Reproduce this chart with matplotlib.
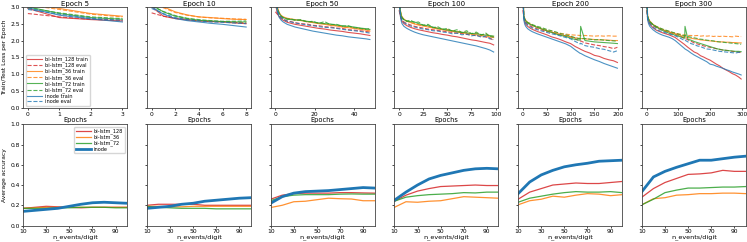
import matplotlib
matplotlib.use("Agg")
import matplotlib.pyplot as plt

# ---- loss curves (top row) ----
titles = ["Epoch 5", "Epoch 10", "Epoch 50", "Epoch 100", "Epoch 200", "Epoch 300"]
names = ["bi-lstm_128", "bi-lstm_36", "bi-lstm_72", "inode"]

ep5_x = [0, 1, 2, 3]
ep5 = {
    "bi-lstm_128 train": [2.95, 2.68, 2.62, 2.58],
    "bi-lstm_128 eval": [2.80, 2.70, 2.63, 2.60],
    "bi-lstm_36 train": [3.10, 2.95, 2.80, 2.72],
    "bi-lstm_36 eval": [3.05, 2.92, 2.78, 2.70],
    "bi-lstm_72 train": [3.00, 2.80, 2.68, 2.63],
    "bi-lstm_72 eval": [2.97, 2.82, 2.70, 2.65],
    "inode train": [2.97, 2.75, 2.64, 2.55],
    "inode eval": [2.92, 2.78, 2.66, 2.60],
}

ep10_x = [0, 1, 2, 3, 4, 5, 6, 7, 8]
ep10 = {
    "bi-lstm_128 train": [3.00, 2.72, 2.65, 2.61, 2.58, 2.56, 2.55, 2.52, 2.50],
    "bi-lstm_128 eval": [2.82, 2.72, 2.66, 2.62, 2.59, 2.57, 2.56, 2.54, 2.52],
    "bi-lstm_36 train": [3.15, 3.00, 2.85, 2.76, 2.70, 2.68, 2.65, 2.63, 2.62],
    "bi-lstm_36 eval": [3.10, 2.97, 2.83, 2.75, 2.70, 2.67, 2.66, 2.64, 2.63],
    "bi-lstm_72 train": [3.05, 2.85, 2.72, 2.65, 2.60, 2.58, 2.56, 2.55, 2.55],
    "bi-lstm_72 eval": [3.02, 2.86, 2.74, 2.66, 2.62, 2.59, 2.57, 2.57, 2.58],
    "inode train": [3.00, 2.78, 2.65, 2.59, 2.55, 2.51, 2.48, 2.44, 2.40],
    "inode eval": [2.95, 2.80, 2.68, 2.62, 2.58, 2.55, 2.54, 2.52, 2.50],
}

ep50_x = [0, 1, 2, 3, 4, 6, 8, 10, 13, 16, 19, 22, 25, 28, 31, 34, 37, 40, 43, 46, 48]
ep50 = {
    "bi-lstm_128 train": [3.10, 2.80, 2.70, 2.64, 2.60, 2.54, 2.51, 2.48, 2.45, 2.42, 2.39, 2.36, 2.34, 2.31, 2.29, 2.27, 2.24, 2.22, 2.20, 2.17, 2.15],
    "bi-lstm_128 eval": [2.85, 2.78, 2.72, 2.67, 2.63, 2.58, 2.56, 2.53, 2.50, 2.49, 2.45, 2.44, 2.41, 2.40, 2.37, 2.36, 2.32, 2.31, 2.29, 2.27, 2.25],
    "bi-lstm_36 train": [3.50, 3.00, 2.82, 2.74, 2.70, 2.66, 2.64, 2.62, 2.59, 2.56, 2.53, 2.50, 2.48, 2.45, 2.43, 2.40, 2.38, 2.36, 2.33, 2.31, 2.28],
    "bi-lstm_36 eval": [3.40, 2.95, 2.80, 2.73, 2.69, 2.65, 2.63, 2.61, 2.60, 2.56, 2.55, 2.51, 2.50, 2.46, 2.45, 2.41, 2.40, 2.37, 2.36, 2.33, 2.31],
    "bi-lstm_72 train": [3.50, 2.95, 2.80, 2.72, 2.68, 2.64, 2.62, 2.61, 2.60, 2.57, 2.55, 2.52, 2.50, 2.49, 2.46, 2.44, 2.42, 2.40, 2.37, 2.35, 2.33],
    "bi-lstm_72 eval": [3.40, 2.92, 2.78, 2.71, 2.67, 2.63, 2.64, 2.60, 2.62, 2.55, 2.57, 2.51, 2.56, 2.47, 2.48, 2.42, 2.44, 2.38, 2.36, 2.33, 2.36],
    "inode train": [3.40, 2.85, 2.68, 2.60, 2.55, 2.48, 2.44, 2.40, 2.36, 2.32, 2.28, 2.25, 2.22, 2.19, 2.16, 2.14, 2.11, 2.09, 2.07, 2.05, 2.03],
    "inode eval": [3.30, 2.90, 2.75, 2.68, 2.63, 2.57, 2.55, 2.52, 2.49, 2.46, 2.44, 2.41, 2.39, 2.38, 2.36, 2.33, 2.31, 2.29, 2.27, 2.24, 2.22],
}

ep100_x = [0, 1, 2, 3, 5, 8, 12, 16, 20, 25, 30, 35, 40, 45, 50, 55, 60, 65, 70, 75, 80, 85, 90, 94, 98]
ep100 = {
    "bi-lstm_128 train": [3.20, 2.78, 2.65, 2.57, 2.50, 2.44, 2.39, 2.35, 2.32, 2.29, 2.26, 2.23, 2.21, 2.18, 2.16, 2.13, 2.11, 2.08, 2.05, 2.02, 2.00, 1.97, 1.94, 1.92, 1.87],
    "bi-lstm_128 eval": [2.90, 2.75, 2.66, 2.60, 2.55, 2.50, 2.46, 2.42, 2.40, 2.37, 2.34, 2.32, 2.30, 2.28, 2.26, 2.24, 2.22, 2.21, 2.18, 2.17, 2.14, 2.13, 2.10, 2.08, 2.00],
    "bi-lstm_36 train": [3.50, 2.95, 2.78, 2.70, 2.63, 2.58, 2.53, 2.49, 2.46, 2.43, 2.40, 2.37, 2.34, 2.32, 2.29, 2.27, 2.25, 2.23, 2.21, 2.19, 2.17, 2.15, 2.13, 2.11, 2.09],
    "bi-lstm_36 eval": [3.40, 2.92, 2.76, 2.69, 2.63, 2.57, 2.54, 2.50, 2.47, 2.45, 2.42, 2.38, 2.37, 2.33, 2.33, 2.29, 2.28, 2.24, 2.25, 2.20, 2.22, 2.16, 2.19, 2.13, 2.12],
    "bi-lstm_72 train": [3.50, 2.93, 2.76, 2.68, 2.62, 2.57, 2.56, 2.55, 2.50, 2.46, 2.44, 2.40, 2.36, 2.34, 2.31, 2.29, 2.26, 2.24, 2.23, 2.21, 2.20, 2.18, 2.16, 2.15, 2.13],
    "bi-lstm_72 eval": [3.40, 2.90, 2.75, 2.67, 2.61, 2.58, 2.60, 2.53, 2.55, 2.45, 2.48, 2.38, 2.41, 2.33, 2.36, 2.28, 2.32, 2.24, 2.29, 2.20, 2.25, 2.16, 2.22, 2.12, 2.10],
    "inode train": [3.40, 2.80, 2.60, 2.50, 2.42, 2.36, 2.30, 2.25, 2.21, 2.17, 2.14, 2.11, 2.08, 2.05, 2.02, 1.99, 1.96, 1.93, 1.90, 1.87, 1.84, 1.80, 1.76, 1.72, 1.66],
    "inode eval": [3.30, 2.85, 2.68, 2.60, 2.53, 2.48, 2.43, 2.40, 2.37, 2.34, 2.32, 2.29, 2.28, 2.25, 2.24, 2.20, 2.22, 2.17, 2.19, 2.14, 2.16, 2.10, 2.13, 2.05, 2.03],
}

ep200_x = [0, 2, 4, 6, 10, 15, 20, 30, 40, 50, 60, 70, 80, 90, 100, 110, 120, 121, 130, 140, 150, 160, 170, 180, 190, 198]
ep200 = {
    "bi-lstm_128 train": [3.20, 2.66, 2.55, 2.48, 2.42, 2.37, 2.33, 2.27, 2.22, 2.17, 2.11, 2.07, 2.02, 1.96, 1.91, 1.82, 1.75, 1.74, 1.68, 1.63, 1.56, 1.53, 1.47, 1.43, 1.40, 1.35],
    "bi-lstm_128 eval": [2.90, 2.68, 2.60, 2.54, 2.48, 2.44, 2.40, 2.35, 2.31, 2.27, 2.24, 2.21, 2.17, 2.14, 2.11, 2.05, 1.98, 1.99, 1.93, 1.90, 1.87, 1.85, 1.82, 1.80, 1.76, 1.80],
    "bi-lstm_36 train": [3.50, 2.75, 2.65, 2.60, 2.54, 2.49, 2.45, 2.39, 2.34, 2.29, 2.25, 2.21, 2.17, 2.14, 2.11, 2.08, 2.06, 2.06, 2.05, 2.04, 2.03, 2.02, 2.02, 2.01, 2.00, 2.00],
    "bi-lstm_36 eval": [3.40, 2.73, 2.64, 2.59, 2.53, 2.49, 2.46, 2.40, 2.36, 2.31, 2.28, 2.24, 2.21, 2.19, 2.17, 2.16, 2.15, 2.14, 2.15, 2.14, 2.13, 2.14, 2.13, 2.14, 2.13, 2.13],
    "bi-lstm_72 train": [3.50, 2.72, 2.63, 2.58, 2.52, 2.48, 2.45, 2.39, 2.34, 2.29, 2.24, 2.19, 2.15, 2.12, 2.07, 2.03, 2.01, 2.42, 2.00, 1.98, 1.96, 1.95, 1.94, 1.93, 1.92, 1.91],
    "bi-lstm_72 eval": [3.40, 2.70, 2.62, 2.57, 2.53, 2.51, 2.47, 2.42, 2.38, 2.33, 2.29, 2.25, 2.20, 2.17, 2.13, 2.08, 2.05, 2.06, 2.06, 2.04, 2.02, 2.03, 2.01, 2.00, 1.99, 1.98],
    "inode train": [3.40, 2.60, 2.48, 2.42, 2.35, 2.30, 2.26, 2.20, 2.15, 2.10, 2.05, 2.00, 1.95, 1.90, 1.83, 1.72, 1.62, 1.62, 1.55, 1.49, 1.43, 1.38, 1.32, 1.27, 1.22, 1.18],
    "inode eval": [3.30, 2.70, 2.58, 2.52, 2.46, 2.41, 2.37, 2.32, 2.28, 2.24, 2.20, 2.17, 2.13, 2.09, 2.05, 1.97, 1.90, 1.92, 1.85, 1.82, 1.80, 1.76, 1.74, 1.70, 1.66, 1.70],
}

ep300_x = [0, 3, 6, 10, 20, 30, 40, 50, 60, 70, 80, 90, 100, 110, 120, 121, 130, 140, 150, 160, 170, 180, 190, 200, 210, 220, 230, 240, 250, 260, 270, 280, 290, 298]
ep300 = {
    "bi-lstm_128 train": [3.20, 2.68, 2.56, 2.48, 2.38, 2.31, 2.27, 2.23, 2.20, 2.17, 2.13, 2.09, 2.02, 1.95, 1.88, 1.87, 1.80, 1.73, 1.66, 1.62, 1.55, 1.51, 1.46, 1.42, 1.36, 1.30, 1.25, 1.18, 1.13, 1.08, 1.02, 0.98, 0.92, 0.86],
    "bi-lstm_128 eval": [2.90, 2.68, 2.60, 2.53, 2.44, 2.38, 2.34, 2.31, 2.28, 2.25, 2.22, 2.19, 2.16, 2.11, 2.06, 2.07, 2.02, 1.98, 1.93, 1.90, 1.87, 1.84, 1.82, 1.80, 1.78, 1.76, 1.74, 1.72, 1.71, 1.70, 1.68, 1.67, 1.66, 1.64],
    "bi-lstm_36 train": [3.50, 2.75, 2.65, 2.58, 2.48, 2.42, 2.37, 2.33, 2.29, 2.26, 2.23, 2.20, 2.17, 2.14, 2.11, 2.11, 2.09, 2.07, 2.05, 2.04, 2.02, 2.01, 2.00, 1.99, 1.98, 1.97, 1.96, 1.96, 1.95, 1.95, 1.94, 1.94, 1.93, 1.93],
    "bi-lstm_36 eval": [3.40, 2.74, 2.64, 2.57, 2.47, 2.41, 2.37, 2.33, 2.30, 2.27, 2.24, 2.22, 2.20, 2.18, 2.16, 2.17, 2.15, 2.15, 2.14, 2.15, 2.13, 2.14, 2.13, 2.14, 2.12, 2.13, 2.12, 2.13, 2.12, 2.12, 2.11, 2.13, 2.12, 2.12],
    "bi-lstm_72 train": [3.50, 2.73, 2.63, 2.56, 2.47, 2.40, 2.35, 2.30, 2.26, 2.22, 2.19, 2.16, 2.13, 2.10, 2.07, 2.42, 2.04, 2.01, 1.97, 1.94, 1.91, 1.88, 1.85, 1.82, 1.79, 1.76, 1.74, 1.72, 1.71, 1.70, 1.69, 1.68, 1.68, 1.67],
    "bi-lstm_72 eval": [3.40, 2.71, 2.62, 2.55, 2.47, 2.42, 2.38, 2.34, 2.31, 2.28, 2.25, 2.22, 2.19, 2.16, 2.14, 2.15, 2.12, 2.10, 2.08, 2.06, 2.04, 2.03, 2.01, 2.00, 1.99, 1.97, 1.96, 1.95, 1.94, 1.93, 1.92, 1.91, 1.90, 1.89],
    "inode train": [3.40, 2.62, 2.50, 2.42, 2.32, 2.25, 2.20, 2.16, 2.13, 2.10, 2.06, 2.00, 1.92, 1.84, 1.76, 1.75, 1.70, 1.63, 1.57, 1.52, 1.47, 1.42, 1.37, 1.30, 1.28, 1.24, 1.21, 1.18, 1.14, 1.11, 1.07, 1.04, 1.01, 0.98],
    "inode eval": [3.30, 2.70, 2.58, 2.50, 2.40, 2.33, 2.29, 2.26, 2.23, 2.20, 2.17, 2.14, 2.10, 2.05, 2.00, 2.01, 1.96, 1.91, 1.88, 1.84, 1.82, 1.78, 1.75, 1.74, 1.72, 1.70, 1.68, 1.67, 1.66, 1.65, 1.64, 1.63, 1.65, 1.64],
}

loss_x = [ep5_x, ep10_x, ep50_x, ep100_x, ep200_x, ep300_x]
loss = [ep5, ep10, ep50, ep100, ep200, ep300]

# ---- accuracy vs n_events/digit (bottom row) ----
n_events = [10, 20, 30, 40, 50, 60, 70, 80, 90, 100]
acc = [
    {  # epoch 5
        "bi-lstm_128": [0.17, 0.18, 0.19, 0.185, 0.18, 0.175, 0.18, 0.18, 0.18, 0.18],
        "bi-lstm_36": [0.17, 0.175, 0.18, 0.18, 0.18, 0.18, 0.18, 0.18, 0.18, 0.18],
        "bi-lstm_72": [0.17, 0.17, 0.17, 0.175, 0.175, 0.18, 0.18, 0.18, 0.175, 0.175],
        "inode": [0.14, 0.15, 0.16, 0.17, 0.19, 0.21, 0.225, 0.23, 0.225, 0.22],
    },
    {  # epoch 10
        "bi-lstm_128": [0.20, 0.21, 0.21, 0.21, 0.21, 0.20, 0.20, 0.20, 0.20, 0.20],
        "bi-lstm_36": [0.19, 0.19, 0.185, 0.185, 0.19, 0.19, 0.19, 0.19, 0.19, 0.19],
        "bi-lstm_72": [0.19, 0.18, 0.175, 0.17, 0.17, 0.17, 0.165, 0.165, 0.165, 0.165],
        "inode": [0.17, 0.18, 0.19, 0.21, 0.22, 0.24, 0.25, 0.26, 0.27, 0.275],
    },
    {  # epoch 50
        "bi-lstm_128": [0.26, 0.30, 0.315, 0.32, 0.32, 0.32, 0.325, 0.325, 0.322, 0.32],
        "bi-lstm_36": [0.178, 0.20, 0.235, 0.24, 0.255, 0.27, 0.265, 0.262, 0.245, 0.245],
        "bi-lstm_72": [0.245, 0.285, 0.30, 0.305, 0.305, 0.305, 0.31, 0.312, 0.31, 0.31],
        "inode": [0.22, 0.285, 0.32, 0.335, 0.34, 0.345, 0.355, 0.365, 0.375, 0.37],
    },
    {  # epoch 100
        "bi-lstm_128": [0.24, 0.30, 0.34, 0.365, 0.385, 0.39, 0.395, 0.40, 0.395, 0.395],
        "bi-lstm_36": [0.18, 0.235, 0.23, 0.24, 0.245, 0.265, 0.285, 0.28, 0.275, 0.27],
        "bi-lstm_72": [0.24, 0.28, 0.295, 0.305, 0.31, 0.315, 0.325, 0.322, 0.33, 0.33],
        "inode": [0.25, 0.33, 0.40, 0.46, 0.495, 0.52, 0.545, 0.56, 0.565, 0.56],
    },
    {  # epoch 200
        "bi-lstm_128": [0.26, 0.33, 0.365, 0.40, 0.41, 0.42, 0.415, 0.415, 0.425, 0.435],
        "bi-lstm_36": [0.205, 0.245, 0.26, 0.29, 0.28, 0.30, 0.315, 0.31, 0.295, 0.305],
        "bi-lstm_72": [0.23, 0.27, 0.29, 0.31, 0.325, 0.335, 0.33, 0.33, 0.335, 0.325],
        "inode": [0.315, 0.43, 0.50, 0.545, 0.58, 0.60, 0.615, 0.635, 0.64, 0.645],
    },
    {  # epoch 300
        "bi-lstm_128": [0.28, 0.365, 0.425, 0.465, 0.505, 0.51, 0.52, 0.545, 0.535, 0.535],
        "bi-lstm_36": [0.205, 0.265, 0.275, 0.30, 0.305, 0.315, 0.315, 0.32, 0.32, 0.315],
        "bi-lstm_72": [0.205, 0.26, 0.325, 0.35, 0.37, 0.37, 0.375, 0.38, 0.38, 0.385],
        "inode": [0.335, 0.48, 0.535, 0.575, 0.61, 0.645, 0.645, 0.66, 0.675, 0.685],
    },
]

colors = {"bi-lstm_128": "#d62728", "bi-lstm_36": "#ff7f0e",
          "bi-lstm_72": "#2ca02c", "inode": "#1f77b4"}

plt.rcParams["font.size"] = 4.5
fig, axes = plt.subplots(2, 6, figsize=(7.47, 2.42), dpi=100)
fig.subplots_adjust(left=0.031, right=0.9985, top=0.972, bottom=0.068,
                    wspace=0.19, hspace=0.16)

for i in range(6):
    ax = axes[0, i]
    for key, vals in loss[i].items():
        name = key.split(" ")[0]
        ls = "-" if key.endswith("train") else "--"
        ax.plot(loss_x[i], vals, ls, color=colors[name], lw=0.8, alpha=0.8, label=key)
    ax.set_ylim(0, 3.0)
    ax.set_title(titles[i], fontsize=5, pad=0.8)
    ax.set_xlabel("Epochs", fontsize=4.8, labelpad=0.5)
    ax.tick_params(labelsize=4.3, length=1.5, pad=1, width=0.5)
    if i == 0:
        ax.set_ylabel("Train/Test Loss per Epoch", fontsize=4.3, labelpad=2)
        ax.set_xticks([0, 1, 2, 3])
        ax.legend(loc="lower left", fontsize=3.6, handlelength=3, labelspacing=0.1,
                  borderpad=0.3, handletextpad=0.6, framealpha=0.8)
    else:
        ax.set_yticklabels([])
    if i == 1:
        ax.set_xticks([0, 2, 4, 6, 8])

    ax = axes[1, i]
    for name in names:
        lw = 2.0 if name == "inode" else 0.9
        a = 1.0 if name == "inode" else 0.85
        ax.plot(n_events, acc[i][name], color=colors[name], lw=lw, alpha=a, label=name)
    ax.set_ylim(0, 1.0)
    ax.set_xlim(10, 100)
    ax.set_xticks([10, 30, 50, 70, 90])
    ax.set_xlabel("n_events/digit", fontsize=4.6, labelpad=0.3)
    ax.tick_params(labelsize=4.3, length=1.5, pad=1, width=0.5)
    if i == 0:
        ax.set_ylabel("Average accuracy", fontsize=4.3, labelpad=2)
        ax.legend(loc="upper right", fontsize=3.6, handlelength=3, labelspacing=0.1,
                  borderpad=0.3, handletextpad=0.6, framealpha=0.8)
    else:
        ax.set_yticklabels([])

for ax in axes.flat:
    for s in ax.spines.values():
        s.set_linewidth(0.6)
        s.set_color("#444444")

fig.savefig("out.png", dpi=100)
